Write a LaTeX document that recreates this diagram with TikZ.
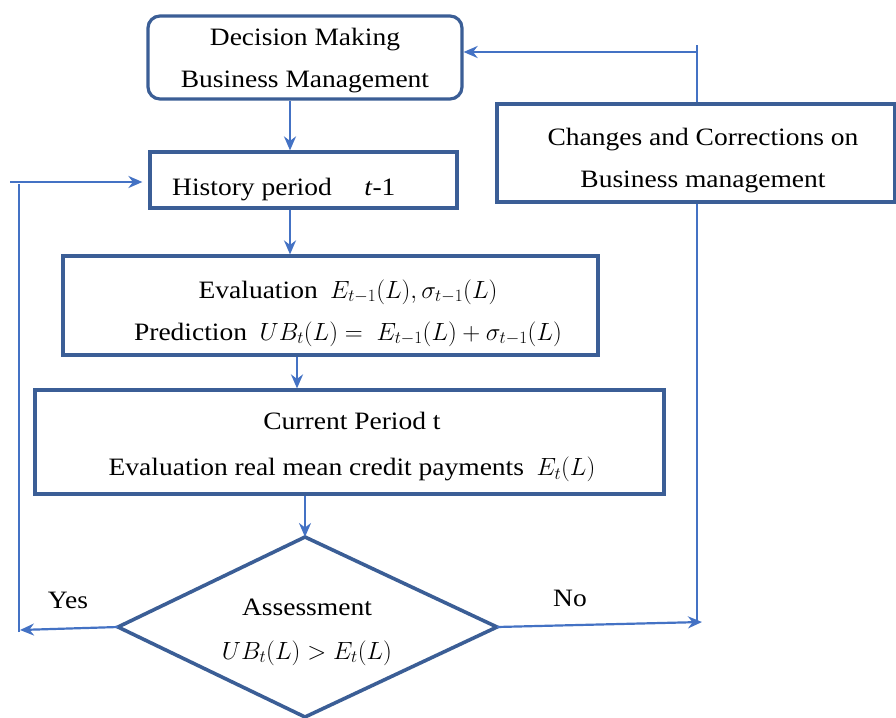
\documentclass[tikz,border=0pt]{standalone}
\usepackage{fontspec}
\setmainfont[FakeStretch=1.1]{Liberation Serif}
\usetikzlibrary{arrows.meta}
\definecolor{boxblue}{HTML}{3B5E96}
\definecolor{arrblue}{HTML}{4472C4}
\begin{document}
\begin{tikzpicture}[x=1pt,y=-1pt,
  box/.style={draw=boxblue, line width=3.2pt, fill=white, inner sep=0pt},
  txt/.style={font=\fontsize{25}{42}\selectfont, inner sep=0pt, align=center},
  arr/.style={draw=arrblue, line width=2.2pt, -{Stealth[length=14pt,width=12pt]}},
  thinline/.style={draw=arrblue, line width=1.3pt}]
\useasboundingbox[fill=white] (0,0) rectangle (896,717);

% boxes
\node[box, rounded corners=12pt, minimum width=314pt, minimum height=83pt] (dec) at (305,57.5) {};
\node[txt] (dect) at (305,61) {Decision Making\\Business Management};

\node[box, minimum width=307pt, minimum height=56pt] (hist) at (303.5,180) {};
\node[txt, anchor=base west] (histt) at (172,195) {History period\hspace{1.3em}\textit{t}-1};

\node[box, minimum width=535pt, minimum height=99pt] (eval) at (330.5,305.5) {};
\node[txt] (evalt) at (348,313) {Evaluation\enspace $E_{t-1}(L),\sigma_{t-1}(L)$\\
  Prediction\enspace $UB_t(L) =\; E_{t-1}(L)+\sigma_{t-1}(L)$};

\node[box, minimum width=629pt, minimum height=104pt] (cur) at (349.5,442) {};
\node[txt, font=\fontsize{25}{46}\selectfont] (curt) at (352,447) {Current Period t\\
  Evaluation real mean credit payments\enspace $E_t(L)$};

% diamond
\coordinate (dtop) at (305,537);
\coordinate (dleft) at (118,627);
\coordinate (dright) at (497,627);
\coordinate (dbot) at (305,717);
\draw[draw=boxblue, line width=3.6pt, line join=miter] (dtop) -- (dright) -- (dbot) -- (dleft) -- cycle;
\node[txt, font=\fontsize{25}{44}\selectfont] (asst) at (307,632) {Assessment\\$UB_t(L) > E_t(L)$};

% connectors
\draw[arr] (dec.south -| 290,0) -- (hist.north -| 290,0);
\draw[arr] (hist.south -| 290,0) -- (eval.north -| 290,0);
\draw[arr] (eval.south -| 297,0) -- (cur.north -| 297,0);
\draw[arr] (cur.south -| 305,0) -- (dtop);

% Yes branch
\coordinate (yesend) at (20,630);
\draw[arr] (dleft) -- (yesend);
\draw[thinline] (19,632) -- (19,184);
\coordinate (histin) at (10,182);
\draw[arr] (histin) -- ([xshift=-6pt]hist.west |- histin);
\node[txt] (yes) at (68,600) {Yes};

% No branch
\coordinate (noend) at (702,622);
\draw[arr] (dright) -- (noend);
\draw[thinline] (697,622) -- (697,45);
\coordinate (decin) at (697,52);
\draw[arr] (decin) -- (dec.east |- decin);
\node[txt] (no) at (570,598) {No};

\node[box, minimum width=398pt, minimum height=98pt] (chg) at (696,153) {};
\node[txt] (chgt) at (703,161) {Changes and Corrections on\\Business management};
\end{tikzpicture}
\end{document}
